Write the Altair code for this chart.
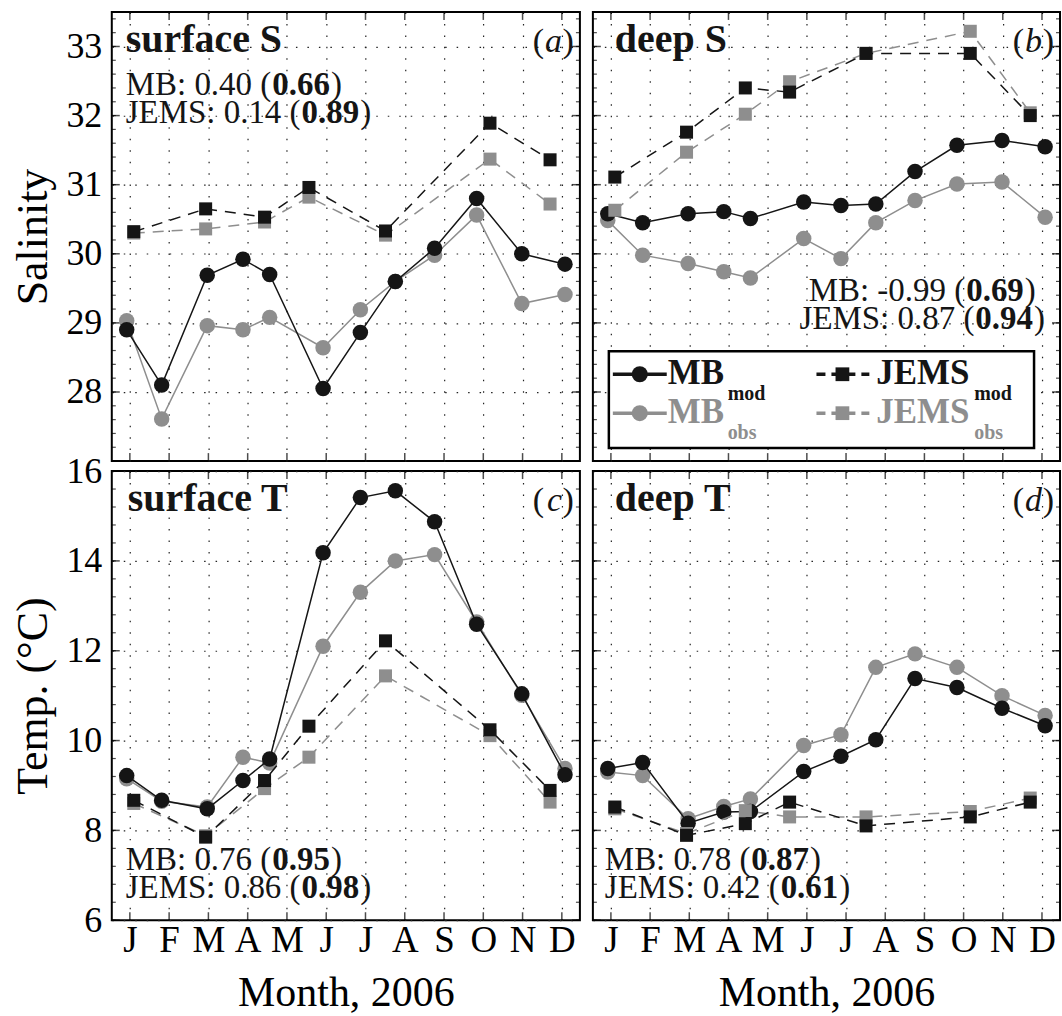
import json
import altair as alt
import pandas as pd

FONT = "Liberation Serif"
BLACK = "#151515"
GRAY = "#8e8e8e"

# ---------------- data ----------------
month_labels = ["J", "F", "M", "A", "M", "J", "J", "A", "S", "O", "N", "D"]
mb_x = [0.92, 1.81, 2.97, 3.88, 4.56, 5.92, 6.87, 7.76, 8.76, 9.83, 10.98, 12.08]
jems_x = [1.10, 2.93, 4.43, 5.56, 7.51, 10.17, 11.70]

# (a) surface salinity
sS_mb_mod = [28.90, 28.10, 29.69, 29.92, 29.70, 28.05, 28.86, 29.60, 30.08, 30.80, 30.00, 29.85]
sS_mb_obs = [29.03, 27.61, 28.96, 28.90, 29.08, 28.64, 29.19, 29.60, 29.98, 30.56, 29.28, 29.41]
sS_jems_mod = [30.32, 30.65, 30.53, 30.96, 30.33, 31.89, 31.36]
sS_jems_obs = [30.30, 30.36, 30.46, 30.82, 30.27, 31.37, 30.72]
# (b) deep salinity
dS_mb_mod = [30.58, 30.45, 30.58, 30.61, 30.51, 30.75, 30.70, 30.72, 31.19, 31.57, 31.64, 31.55]
dS_mb_obs = [30.48, 29.98, 29.86, 29.74, 29.65, 30.22, 29.93, 30.45, 30.77, 31.01, 31.04, 30.53]
dS_jems_mod = [31.11, 31.76, 32.40, 32.34, 32.90, 32.90, 32.00]
dS_jems_obs = [30.63, 31.47, 32.02, 32.49, 32.90, 33.22, 32.04]
# (c) surface temperature
sT_mb_mod = [9.22, 8.67, 8.48, 9.11, 9.59, 14.18, 15.41, 15.56, 14.87, 12.59, 11.04, 9.24]
sT_mb_obs = [9.15, 8.65, 8.52, 9.63, 9.50, 12.10, 13.30, 14.00, 14.14, 12.64, 11.01, 9.38]
sT_jems_mod = [8.67, 7.85, 9.11, 10.32, 12.22, 10.24, 8.89]
sT_jems_obs = [8.60, 7.88, 8.93, 9.63, 11.44, 10.11, 8.63]
# (d) deep temperature
dT_mb_mod = [9.38, 9.51, 8.16, 8.41, 8.42, 9.31, 9.65, 10.02, 11.38, 11.18, 10.72, 10.33]
dT_mb_obs = [9.30, 9.22, 8.26, 8.53, 8.70, 9.89, 10.13, 11.63, 11.93, 11.63, 11.00, 10.56]
dT_jems_mod = [8.52, 7.89, 8.15, 8.63, 8.10, 8.30, 8.63]
dT_jems_obs = [8.48, 7.93, 8.44, 8.30, 8.30, 8.42, 8.72]

panel_titles = ["surface S", "deep S", "surface T", "deep T"]
panel_letters = ["a", "b", "c", "d"]
stats_text = [
    [("MB: 0.40 (", "0.66", ")"), ("JEMS: 0.14 (", "0.89", ")")],
    [("MB: -0.99 (", "0.69", ")"), ("JEMS: 0.87 (", "0.94", ")")],
    [("MB: 0.76 (", "0.95", ")"), ("JEMS: 0.86 (", "0.98", ")")],
    [("MB: 0.78 (", "0.87", ")"), ("JEMS: 0.42 (", "0.61", ")")],
]
sal_ticks = [28, 29, 30, 31, 32, 33]
sal_minor = [round(27 + 0.2 * i, 1) for i in range(33)]
temp_ticks = [6, 8, 10, 12, 14, 16]
temp_minor = [round(6 + 0.4 * i, 1) for i in range(26)]
month_ticks = list(range(1, 13))

# ---------------- helpers ----------------
WID = {"M": 0.889, "B": 0.667, ":": 0.278, " ": 0.25, ".": 0.25, "(": 0.333,
       ")": 0.333, "J": 0.389, "E": 0.611, "S": 0.556, "-": 0.333}


def tw(s, size):
    return sum(WID.get(ch, 0.5) for ch in s) * size


one = pd.DataFrame({"k": [0]})


def txt(text, x, y, size, weight="normal", style="normal", align="left", color=BLACK):
    return alt.Chart(one).mark_text(
        text=text, font=FONT, fontSize=size, fontWeight=weight, fontStyle=style,
        align=align, baseline="alphabetic", color=color
    ).encode(x=alt.value(x), y=alt.value(y))


def stats_line(parts, x, y, size=33, center=False):
    pre, bold, post = parts
    wp, wb, wq = tw(pre, size), tw(bold, size), tw(post, size)
    x0 = x - (wp + wb + wq) / 2 if center else x
    return [txt(pre, x0, y, size), txt(bold, x0 + wp + 1, y, size, weight="bold"),
            txt(post, x0 + wp + wb + 2, y, size)]


label_expr = json.dumps(month_labels) + "[datum.value - 1]"
GRID = dict(grid=True, gridColor="#222222", gridDash=[1.5, 10], gridWidth=1.2)


def panel(idx, series, ydom, yvals, yminor, ytitle, left, bottom, width,
          title_x, stats_x, stats_y, center=False, legend=False):
    xscale = alt.Scale(domain=[0.54, 12.46], nice=False, zero=False)
    yscale = alt.Scale(domain=ydom, nice=False, zero=False)
    xaxis = alt.Axis(
        values=month_ticks, labelExpr=label_expr, labels=bottom, ticks=False,
        domain=False, labelFont=FONT, labelFontSize=37, labelColor="black", labelPadding=2,
        labelFlush=False, labelOverlap=False,
        title="Month, 2006" if bottom else None, titleFont=FONT, titleFontSize=42,
        titleFontWeight="normal", titleColor="black", titlePadding=14, **GRID)
    yaxis = alt.Axis(
        values=yvals, labels=left, ticks=False, domain=False,
        labelFont=FONT, labelFontSize=36, labelColor="black", labelPadding=10,
        labelFlush=False, labelOverlap=False,
        title=ytitle if left else None, titleFont=FONT, titleFontSize=44,
        titleFontWeight="normal", titleColor="black", titlePadding=10, **GRID)
    X = alt.X("x:Q", scale=xscale, axis=xaxis)
    Y = alt.Y("v:Q", scale=yscale, axis=yaxis)
    layers = []
    # inward ticks on all four sides
    xt = pd.DataFrame({"x": month_ticks})
    for yy in (4, 446):
        layers.append(alt.Chart(xt).mark_tick(orient="vertical", size=8, thickness=1.5,
                                              color="black").encode(x=X, y=alt.value(yy)))
    ymaj = pd.DataFrame({"v": yvals})
    ymin = pd.DataFrame({"v": yminor})
    for xx in (4, width - 4):
        layers.append(alt.Chart(ymaj).mark_tick(orient="horizontal", size=8, thickness=1.5,
                                                color="black").encode(y=Y, x=alt.value(xx)))
    for xx in (2, width - 2):
        layers.append(alt.Chart(ymin).mark_tick(orient="horizontal", size=4, thickness=1.2,
                                                color="black").encode(y=Y, x=alt.value(xx)))
    for xs, vs, color, dashed, shape, size in series:
        df = pd.DataFrame({"x": xs, "v": vs})
        mk = dict(color=color, strokeWidth=1.5)
        if dashed:
            mk["strokeDash"] = [11, 8]
        layers.append(alt.Chart(df).mark_line(**mk).encode(x=X, y=Y))
        layers.append(alt.Chart(df).mark_point(
            shape=shape, filled=True, size=size, color=color, opacity=1, strokeWidth=0
        ).encode(x=X, y=Y))
    # panel title and letter
    layers.append(txt(panel_titles[idx], title_x, 40, 40, weight="bold"))
    layers.append(txt(")", width - 6, 40, 34, align="right"))
    layers.append(txt(panel_letters[idx], width - 6 - 12, 40, 34, style="italic", align="right"))
    layers.append(txt("(", width - 6 - 12 - 18, 40, 34, align="right"))
    # statistics
    for line, yy in zip(stats_text[idx], stats_y):
        layers.extend(stats_line(line, stats_x, yy, center=center))
    if legend:
        layers.append(alt.Chart(one).mark_rect(fill="white", stroke="black", strokeWidth=2.5)
                      .encode(x=alt.value(16), x2=alt.value(442), y=alt.value(340), y2=alt.value(437)))
        for ry, col, sub in [(363, BLACK, "mod"), (402, GRAY, "obs")]:
            layers.append(alt.Chart(one).mark_rule(color=col, strokeWidth=3.5)
                          .encode(x=alt.value(20), x2=alt.value(74), y=alt.value(ry)))
            layers.append(alt.Chart(one).mark_point(shape="circle", filled=True, size=260,
                                                    color=col, opacity=1, strokeWidth=0)
                          .encode(x=alt.value(47), y=alt.value(ry)))
            layers.append(txt("MB", 75, ry + 10, 35, weight="bold", color=col))
            layers.append(txt(sub, 135, ry + 26, 20, weight="bold", color=col))
            layers.append(alt.Chart(one).mark_rule(color=col, strokeWidth=3.5, strokeDash=[9, 6])
                          .encode(x=alt.value(224), x2=alt.value(277), y=alt.value(ry)))
            layers.append(alt.Chart(one).mark_point(shape="square", filled=True, size=190,
                                                    color=col, opacity=1, strokeWidth=0)
                          .encode(x=alt.value(250), y=alt.value(ry)))
            layers.append(txt("JEMS", 284, ry + 10, 35, weight="bold", color=col))
            layers.append(txt(sub, 382, ry + 26, 20, weight="bold", color=col))
    return alt.layer(*layers).properties(width=width, height=450)


def series_set(mb_mod, mb_obs, jems_mod, jems_obs):
    return [
        (mb_x, mb_obs, GRAY, False, "circle", 240),
        (mb_x, mb_mod, BLACK, False, "circle", 240),
        (jems_x, jems_obs, GRAY, True, "square", 170),
        (jems_x, jems_mod, BLACK, True, "square", 170),
    ]


pa = panel(0, series_set(sS_mb_mod, sS_mb_obs, sS_jems_mod, sS_jems_obs), [27, 33.5], sal_ticks,
           sal_minor, "Salinity", True, False, 469, 14, 14, [83, 111])
pb = panel(1, series_set(dS_mb_mod, dS_mb_obs, dS_jems_mod, dS_jems_obs), [27, 33.5], sal_ticks,
           sal_minor, "Salinity", False, False, 468, 22, 329, [290, 318], center=True, legend=True)
pc = panel(2, series_set(sT_mb_mod, sT_mb_obs, sT_jems_mod, sT_jems_obs), [6, 16], temp_ticks,
           temp_minor, "Temp. (°C)", True, True, 469, 16, 14, [400, 428])
pd_ = panel(3, series_set(dT_mb_mod, dT_mb_obs, dT_jems_mod, dT_jems_obs), [6, 16], temp_ticks,
            temp_minor, "Temp. (°C)", False, True, 468, 22, 12, [400, 428])

chart = alt.concat(pa, pb, pc, pd_, columns=2, spacing={"row": 10, "column": 13},
                   bounds="flush").resolve_scale(x="independent", y="independent")
chart = chart.properties(
    padding={"left": 11, "top": 10, "right": 1, "bottom": 0},
    background="white",
).configure_view(stroke="black", strokeWidth=2)

chart.save("out.html", embed_options={"renderer": "svg", "actions": False})
